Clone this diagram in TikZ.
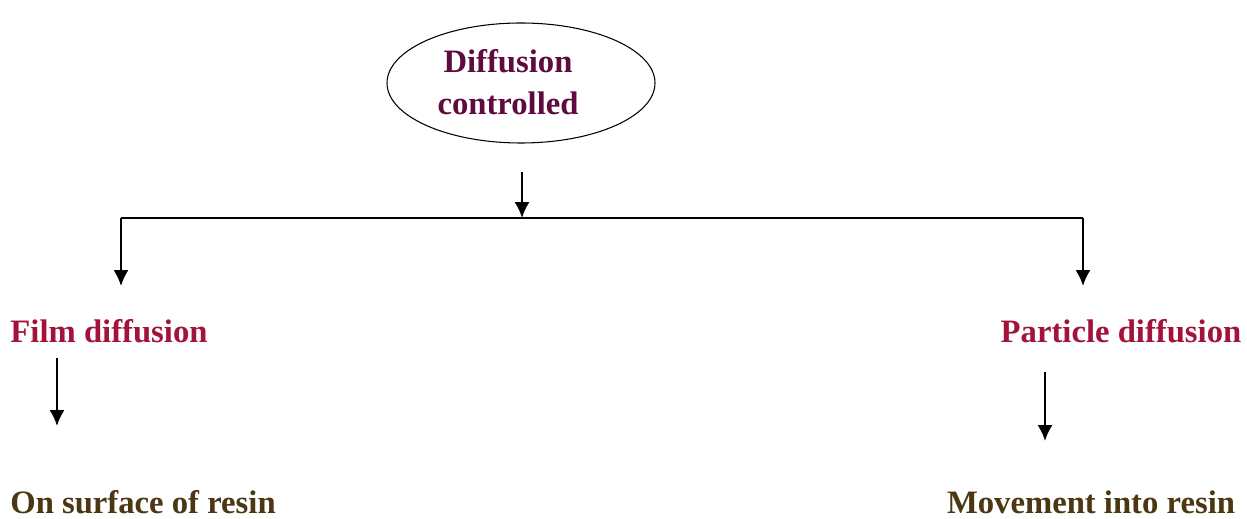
\documentclass[tikz,border=0pt]{standalone}
\usepackage{fontspec}
\setmainfont{Liberation Serif}
\usepackage{tikz}
\usetikzlibrary{arrows.meta,shapes.geometric}

\definecolor{headcol}{HTML}{5E0B40}
\definecolor{kindcol}{HTML}{A3123A}
\definecolor{wherecol}{HTML}{4B3712}

\tikzset{
  px/.style={x=0.02cm,y=-0.02cm},
  arr/.style={line width=1.2pt,-{Latex[length=9pt,width=8.5pt]}},
  lbl/.style={font=\fontsize{18.6}{22}\selectfont\bfseries,inner sep=0pt,anchor=base}
}

\begin{document}
\begin{tikzpicture}[px]
  \useasboundingbox (0,0) rectangle (1247,519);
  \node[draw,ellipse,line width=0.6pt,minimum width=268*0.02cm,minimum height=120*0.02cm] (top) at (521,83) {};
  \node[lbl,headcol,align=center,anchor=center] (topt) at (508,82) {Diffusion\\[2pt]controlled};
  \coordinate (S) at (522,172); \coordinate (M) at (522,218);
  \coordinate (L) at (121,218); \coordinate (R) at (1083,218);
  \coordinate (La) at (121,286); \coordinate (Ra) at (1083,286);
  \node[lbl,kindcol] (film) at (109,343) {Film diffusion};
  \node[lbl,kindcol] (part) at (1121,343) {Particle diffusion};
  \node[lbl,wherecol] (surf) at (143,514) {On surface of resin};
  \node[lbl,wherecol] (move) at (1091,514) {Movement into resin};
  \coordinate (F1) at (57,358); \coordinate (F2) at (57,426);
  \coordinate (P1) at (1045,372); \coordinate (P2) at (1045,441);
  \draw[arr] (S) -- (M);
  \draw[line width=1.2pt] (L) -- (R);
  \draw[arr] (L) -- (La); \draw[arr] (R) -- (Ra);
  \draw[arr] (F1) -- (F2); \draw[arr] (P1) -- (P2);
\end{tikzpicture}
\end{document}
